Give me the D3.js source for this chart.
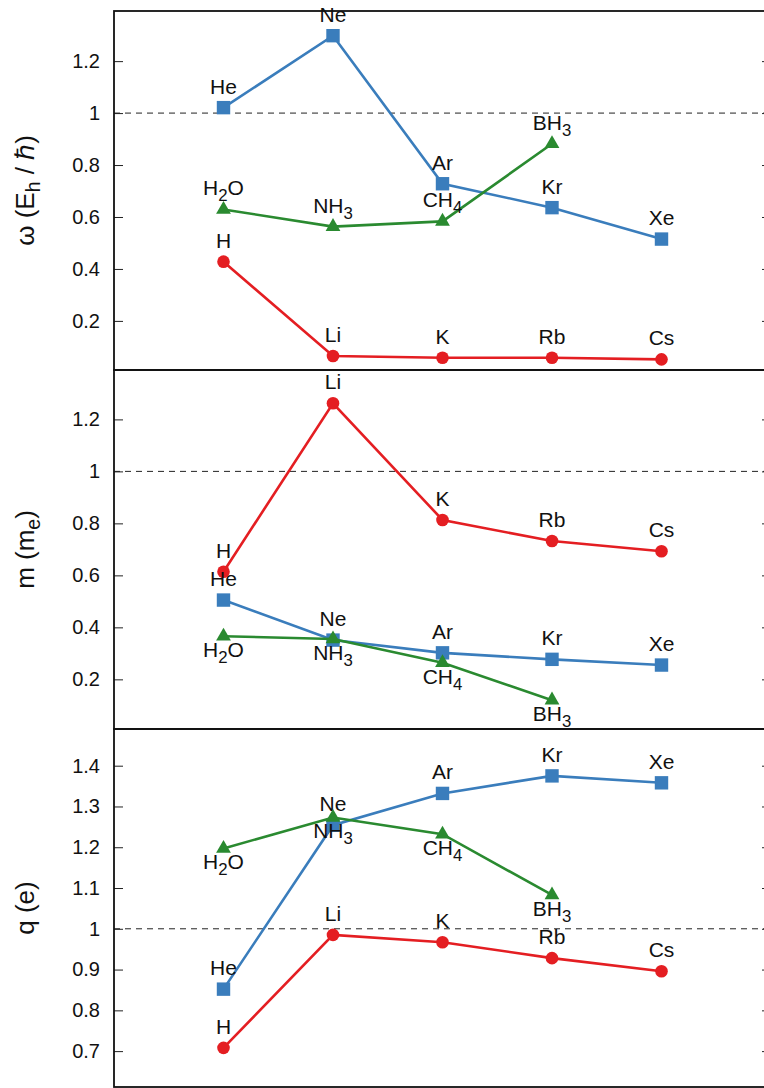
<!DOCTYPE html>
<html><head><meta charset="utf-8">
<script src="https://cdn.jsdelivr.net/npm/d3@7"></script>
<style>body{margin:0;background:#fff}</style>
</head><body><svg id="c" width="764" height="1088"></svg>
<script>
// ---- data ----
const alkaliLabels = ["H","Li","K","Rb","Cs"];
const nobleLabels  = ["He","Ne","Ar","Kr","Xe"];
const hydrideLabels = ["H2O","NH3","CH4","BH3"];
const categoryIndex = [1,2,3,4,5];

const omegaAlkali  = [0.428,0.065,0.058,0.058,0.052];
const omegaNoble   = [1.021,1.298,0.728,0.636,0.515];
const omegaHydride = [0.629,0.563,0.583,0.882];

const massAlkali  = [0.614,1.262,0.813,0.732,0.693];
const massNoble   = [0.505,0.351,0.302,0.277,0.255];
const massHydride = [0.366,0.355,0.264,0.120];

const chargeAlkali  = [0.708,0.985,0.967,0.928,0.896];
const chargeNoble   = [0.852,1.254,1.332,1.375,1.358];
const chargeHydride = [1.197,1.273,1.232,1.083];

const ticksOmega  = [0.2,0.4,0.6,0.8,1,1.2];
const ticksMass   = [0.2,0.4,0.6,0.8,1,1.2];
const ticksCharge = [0.7,0.8,0.9,1,1.1,1.2,1.3,1.4];

const colors = {alkali:"#E41E22", noble:"#3A7DBC", hydride:"#2A8A30"};

// ---- layout ----
const svg = d3.select("#c");
const left = 114, right = 771;
const x = d3.scaleLinear().domain([0,6]).range([left,right]);
const panels = [
  {top:11, bottom:370, domain:[0.011,1.393], ticks:ticksOmega, title:[["ω (E",""],["h","sub"],[" / ℏ)",""]],
   series:[{v:omegaAlkali,l:alkaliLabels,k:"alkali",pos:"above"},{v:omegaNoble,l:nobleLabels,k:"noble",pos:"above"},{v:omegaHydride,l:hydrideLabels,k:"hydride",pos:"above"}]},
  {top:370, bottom:729, domain:[0.009,1.39], ticks:ticksMass, title:[["m (m",""],["e","sub"],[")",""]],
   series:[{v:massAlkali,l:alkaliLabels,k:"alkali",pos:"above"},{v:massNoble,l:nobleLabels,k:"noble",pos:"above"},{v:massHydride,l:hydrideLabels,k:"hydride",pos:"below"}]},
  {top:729, bottom:1087, domain:[0.612,1.49], ticks:ticksCharge, title:[["q (e)",""]],
   series:[{v:chargeAlkali,l:alkaliLabels,k:"alkali",pos:"above"},{v:chargeNoble,l:nobleLabels,k:"noble",pos:"above"},{v:chargeHydride,l:hydrideLabels,k:"hydride",pos:"below"}]}
];

function richText(sel, label){
  const parts = label.match(/[0-9]+|[^0-9]+/g);
  let sub=false;
  parts.forEach(p=>{
    if(/^[0-9]+$/.test(p)){
      sel.append("tspan").attr("dy",6).attr("font-size","0.8em").text(p); sub=true;
    } else {
      sel.append("tspan").attr("dy",sub?-6:0).text(p); sub=false;
    }
  });
}

const font = "'Liberation Sans', Arial, Helvetica, sans-serif";

panels.forEach(P=>{
  const y = d3.scaleLinear().domain(P.domain).range([P.bottom,P.top]);
  const g = svg.append("g");
  // dashed line at 1
  g.append("line").attr("x1",left).attr("x2",right).attr("y1",y(1)).attr("y2",y(1))
    .attr("stroke","#222").attr("stroke-width",1).attr("stroke-dasharray","6,5");
  // left axis
  const ax = d3.axisLeft(y).tickValues(P.ticks).tickSize(-9).tickPadding(14).tickFormat(d3.format("~g"));
  const ag = g.append("g").attr("transform",`translate(${left},0)`).call(ax);
  ag.select(".domain").remove();
  ag.selectAll(".tick line").attr("stroke","#222").attr("stroke-width",1);
  ag.selectAll(".tick text").attr("font-family",font).attr("font-size",20).attr("fill","#111");
  const axr = d3.axisRight(y).tickValues(P.ticks).tickSize(-9).tickFormat("");
  const ar = g.append("g").attr("transform",`translate(${right},0)`).call(axr);
  ar.select(".domain").remove();
  ar.selectAll(".tick line").attr("stroke","#222");
  // frame
  g.append("rect").attr("x",left).attr("y",P.top).attr("width",right-left).attr("height",P.bottom-P.top)
    .attr("fill","none").attr("stroke","#111").attr("stroke-width",1.8);
  // title
  const t = g.append("text").attr("font-family",font).attr("font-size",26).attr("fill","#111")
    .attr("text-anchor","middle")
    .attr("transform",`translate(34,${(P.top+P.bottom)/2}) rotate(-90)`);
  let sub=false;
  P.title.forEach(([s,kind])=>{
    if(kind==="sub"){t.append("tspan").attr("dy",6).attr("font-size","0.75em").text(s);sub=true;}
    else {t.append("tspan").attr("dy",sub?-6:0).text(s);sub=false;}
  });
  // series
  P.series.forEach(S=>{
    const pts = S.v.map((v,i)=>({x:x(categoryIndex[i]),y:y(v),label:S.l[i]}));
    const line = d3.line().x(d=>d.x).y(d=>d.y);
    g.append("path").attr("d",line(pts)).attr("fill","none").attr("stroke",colors[S.k]).attr("stroke-width",2.6);
    let sym;
    if(S.k==="alkali") sym = d3.symbol(d3.symbolCircle,125);
    else if(S.k==="noble") sym = d3.symbol(d3.symbolSquare,180);
    else sym = d3.symbol(d3.symbolTriangle,95);
    g.selectAll(null).data(pts).enter().append("path")
      .attr("d",sym).attr("transform",d=>`translate(${d.x},${d.y})`)
      .attr("fill",colors[S.k]);
    g.selectAll(null).data(pts).enter().append("text")
      .attr("font-family",font).attr("font-size",21).attr("fill","#111").attr("text-anchor","middle")
      .attr("x",d=>d.x).attr("y",d=>S.pos==="above"? d.y-14 : d.y+21)
      .each(function(d){richText(d3.select(this),d.label);});
  });
});
</script></body></html>
